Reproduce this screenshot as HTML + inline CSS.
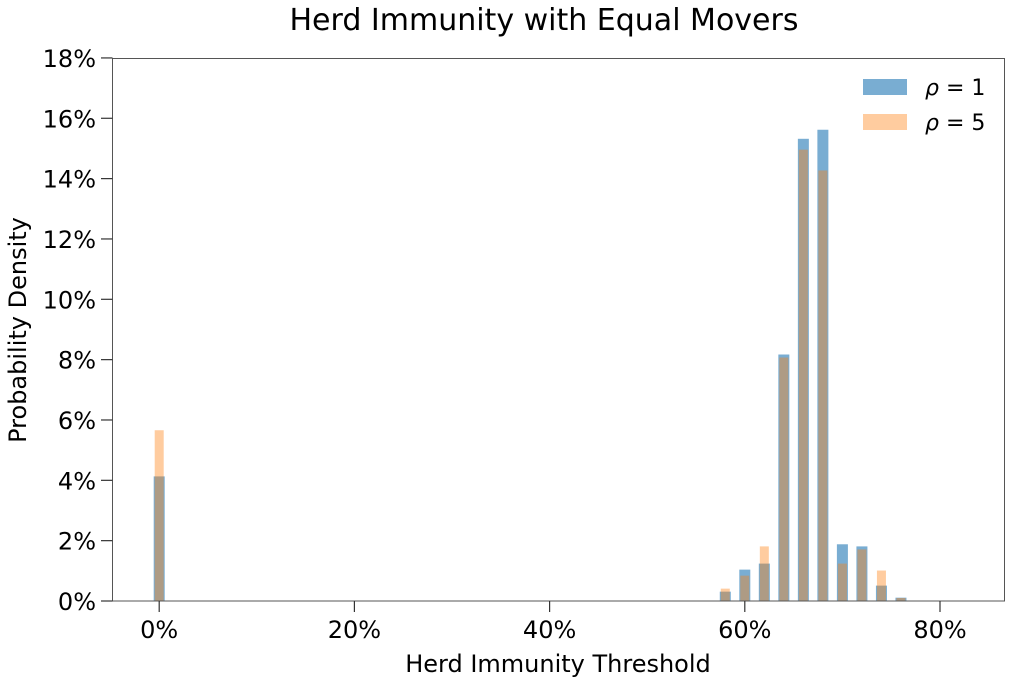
<!DOCTYPE html>
<html><head><meta charset="utf-8"><style>
html,body{margin:0;padding:0;background:#fff;}
svg{display:block;font-family:"DejaVu Sans","Liberation Sans",sans-serif;}
</style></head><body>
<svg id="chart" width="1012" height="683">
<text x="544" y="30" text-anchor="middle" font-size="30" fill="#000">Herd Immunity with Equal Movers</text>
<g id="bars"></g>
<rect x="112.5" y="58.5" width="892" height="542.5" fill="none" stroke="#555" stroke-width="1"/>
<g id="ticks"></g>
<text x="558" y="672" text-anchor="middle" font-size="24">Herd Immunity Threshold</text>
<text transform="translate(26,330) rotate(-90)" text-anchor="middle" font-size="24">Probability Density</text>
<g>
<rect x="863" y="79" width="44" height="16" fill="#1f77b4" fill-opacity="0.6"/>
<text x="925" y="95" font-size="22"><tspan font-style="italic">ρ</tspan> = 1</text>
<rect x="863" y="114" width="44" height="16" fill="#ff7f0e" fill-opacity="0.4"/>
<text x="925" y="130" font-size="22"><tspan font-style="italic">ρ</tspan> = 5</text>
</g>
</svg>
<script>
const categories = [0, 58, 60, 62, 64, 66, 68, 70, 72, 74, 76];
const rho1Values = [4.13, 0.31, 1.04, 1.24, 8.17, 15.32, 15.62, 1.88, 1.81, 0.51, 0.11];
const rho5Values = [5.66, 0.41, 0.84, 1.81, 8.07, 14.96, 14.27, 1.24, 1.71, 1.01, 0.10];
const xTicks = [0, 20, 40, 60, 80];
const yTicks = [0, 2, 4, 6, 8, 10, 12, 14, 16, 18];
const NS = "http://www.w3.org/2000/svg";
const xs = v => 159.2 + v * 9.76;
const ys = v => 601 - v * 30.17;
const bars = document.getElementById('bars');
function bar(c, v, w, color, op, name) {
  const r = document.createElementNS(NS, 'rect');
  r.setAttribute('x', xs(c) - w / 2);
  r.setAttribute('y', ys(v));
  r.setAttribute('width', w);
  r.setAttribute('height', ys(0) - ys(v));
  r.setAttribute('fill', color);
  r.setAttribute('fill-opacity', op);
  
  
  bars.appendChild(r);
}
categories.forEach((c, i) => bar(c, rho1Values[i], 11, '#1f77b4', 0.6, 'bar-rho1-' + c));
categories.forEach((c, i) => bar(c, rho5Values[i], 9, '#ff7f0e', 0.4, 'bar-rho5-' + c));
const ticks = document.getElementById('ticks');
function line(x1, y1, x2, y2) {
  const l = document.createElementNS(NS, 'line');
  l.setAttribute('x1', x1); l.setAttribute('y1', y1);
  l.setAttribute('x2', x2); l.setAttribute('y2', y2);
  l.setAttribute('stroke', '#333'); l.setAttribute('stroke-width', '1.2');
  
  
  ticks.appendChild(l);
}
function text(x, y, s, anchor, name) {
  const t = document.createElementNS(NS, 'text');
  t.setAttribute('x', x); t.setAttribute('y', y);
  t.setAttribute('text-anchor', anchor);
  t.setAttribute('font-size', '24');
  t.textContent = s;
  
  
  ticks.appendChild(t);
}
yTicks.forEach(v => { line(101, ys(v), 112.5, ys(v)); text(96, ys(v) + 9, v + '%', 'end', 'y-tick-label'); });
xTicks.forEach(v => { line(xs(v), 601, xs(v), 612); text(xs(v), 638, v + '%', 'middle', 'x-tick-label'); });
</script>
</body></html>
